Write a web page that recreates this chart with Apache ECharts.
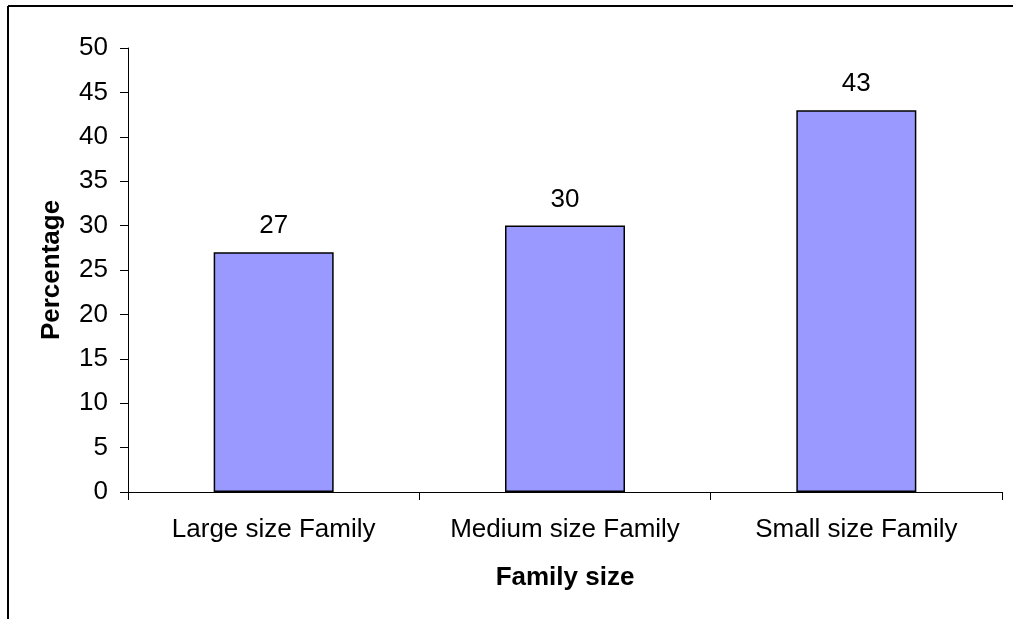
<!DOCTYPE html>
<html>
<head>
<meta charset="utf-8">
<script src="https://cdn.jsdelivr.net/npm/echarts@6/dist/echarts.min.js"></script>
<style>
  html, body { margin: 0; padding: 0; background: #fff; }
  #chart { width: 1013px; height: 619px; }
</style>
</head>
<body>
<div id="chart"></div>
<script>
// data
const categories = ['Large size Family', 'Medium size Family', 'Small size Family'];
const percentages = [27, 30, 43];
const yTicks = [0, 5, 10, 15, 20, 25, 30, 35, 40, 45, 50];

const font = '"Liberation Sans", Arial, sans-serif';

let myChart = echarts.init(document.getElementById('chart'));
myChart.setOption({
    animation: false,
    backgroundColor: '#fff',
    grid: { left: 128, right: 11, top: 48, bottom: 127 },
    graphic: [
        // frame of the original, only top and left visible
        { type: 'line', shape: { x1: 8, y1: 6, x2: 1013, y2: 6 }, style: { stroke: '#000', lineWidth: 2 } },
        { type: 'line', shape: { x1: 8, y1: 6, x2: 8, y2: 619 }, style: { stroke: '#000', lineWidth: 2 } }
    ],
    xAxis: {
        type: 'category',
        data: categories,
        name: 'Family size',
        nameLocation: 'middle',
        nameGap: 73,
        nameTextStyle: { fontFamily: font, fontSize: 26, fontWeight: 'bold', color: '#000' },
        axisLine: { lineStyle: { color: '#000', width: 1 } },
        axisTick: { show: true, interval: 0, length: 8, lineStyle: { color: '#000' } },
        axisLabel: { interval: 0, hideOverlap: false, fontFamily: font, fontSize: 26, color: '#000', margin: 25 }
    },
    yAxis: {
        type: 'value',
        min: yTicks[0],
        max: yTicks[yTicks.length - 1],
        interval: 5,
        name: 'Percentage',
        nameLocation: 'middle',
        nameGap: 63,
        nameTextStyle: { fontFamily: font, fontSize: 26, fontWeight: 'bold', color: '#000' },
        axisLine: { show: true, lineStyle: { color: '#000', width: 1 } },
        axisTick: { show: true, length: 8, lineStyle: { color: '#000' } },
        axisLabel: { fontFamily: font, fontSize: 26, color: '#000', margin: 20 },
        splitLine: { show: false }
    },
    series: [
        {
            type: 'bar',
            data: percentages,
            barWidth: 120,
            itemStyle: { color: '#9999FF', borderColor: '#000', borderWidth: 1.5 },
            label: { show: true, position: 'top', distance: 13, fontFamily: font, fontSize: 26, color: '#000' }
        }
    ]
});
</script>
</body>
</html>
